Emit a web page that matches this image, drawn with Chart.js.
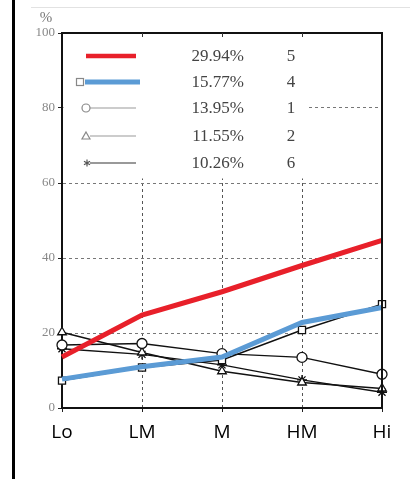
<!DOCTYPE html>
<html>
<head>
<meta charset="utf-8">
<script src="https://cdn.jsdelivr.net/npm/chart.js@4/dist/chart.umd.min.js"></script>
<style>
  html, body { margin: 0; padding: 0; background: #fff; }
  #wrap { width: 413px; height: 479px; }
</style>
</head>
<body>
<div id="wrap"><canvas id="chart" width="413" height="479"></canvas></div>
<script>
const categories = ['Lo', 'LM', 'M', 'HM', 'Hi'];

// highlighted groups (drawn over the original black lines)
const group5 = [13.6, 24.8, 31, 38, 44.7];
const group4 = [7.7, 11, 13.6, 22.8, 26.8];

// original black series
const group4Marks = [7.3, 10.8, 12.8, 20.8, 27.7];
const group1 = [16.8, 17.2, 14.5, 13.5, 9];
const group2 = [20.2, 14.8, 9.8, 6.8, 5.2];
const group6 = [15.8, 14.3, 11.5, 7.5, 4.2];

const yTicks = [0, 20, 40, 60, 80, 100];

const legendShares = ['29.94%', '15.77%', '13.95%', '11.55%', '10.26%'];
const legendGroups = ['5', '4', '1', '2', '6'];

const serif = '"Liberation Serif", "DejaVu Serif", serif';

function blackSeries(data, style) {
  return {
    data: data,
    borderColor: '#111',
    borderWidth: 1.5,
    pointStyle: style,
    pointRadius: 5,
    pointBorderColor: '#111',
    pointBackgroundColor: '#fff',
    pointBorderWidth: 1.3,
    tension: 0
  };
}

// legend table in the upper left, frame, and the page decorations
const decorations = {
  id: 'decorations',
  beforeDatasetsDraw(chart) {
    const ctx = chart.ctx;
    const area = chart.chartArea;
    ctx.save();
    ctx.fillStyle = '#fff';
    ctx.fillRect(area.left + 1.5, area.top + 1.5, 244, 144);

    const rowY = [56, 82, 108, 136, 163];
    const markers = [null, 'rect', 'circle', 'triangle', 'star'];
    rowY.forEach((y, i) => {
      ctx.lineWidth = 1.5;
      if (i === 0) {
        ctx.strokeStyle = '#e8202a';
        ctx.lineWidth = 4.5;
        ctx.beginPath(); ctx.moveTo(86, y); ctx.lineTo(136, y); ctx.stroke();
      } else if (i === 1) {
        ctx.strokeStyle = '#5b9bd5';
        ctx.lineWidth = 5;
        ctx.beginPath(); ctx.moveTo(85, y); ctx.lineTo(140, y); ctx.stroke();
      } else {
        ctx.strokeStyle = i === 4 ? '#777' : '#bbb';
        ctx.beginPath(); ctx.moveTo(90, y); ctx.lineTo(136, y); ctx.stroke();
      }
      const m = markers[i];
      ctx.strokeStyle = '#888';
      ctx.fillStyle = '#fff';
      ctx.lineWidth = 1.2;
      if (m === 'rect') {
        ctx.fillRect(76.5, y - 3.5, 7, 7);
        ctx.strokeRect(76.5, y - 3.5, 7, 7);
      } else if (m === 'circle') {
        ctx.beginPath(); ctx.arc(86, y, 4, 0, Math.PI * 2); ctx.fill(); ctx.stroke();
      } else if (m === 'triangle') {
        ctx.beginPath(); ctx.moveTo(86, y - 4); ctx.lineTo(90, y + 3); ctx.lineTo(82, y + 3); ctx.closePath(); ctx.fill(); ctx.stroke();
      } else if (m === 'star') {
        ctx.strokeStyle = '#555';
        ctx.beginPath();
        for (let k = 0; k < 3; k++) {
          const a = Math.PI / 2 + k * Math.PI / 3;
          ctx.moveTo(87 + 3.5 * Math.cos(a), y + 3.5 * Math.sin(a));
          ctx.lineTo(87 - 3.5 * Math.cos(a), y - 3.5 * Math.sin(a));
        }
        ctx.stroke();
      }
      ctx.fillStyle = '#444';
      ctx.font = '17px ' + serif;
      ctx.textBaseline = 'middle';
      ctx.textAlign = 'right';
      ctx.fillText(legendShares[i], 244, y + 1);
      ctx.textAlign = 'center';
      ctx.fillText(legendGroups[i], 291, y + 1);
    });
    ctx.restore();
  },
  afterDraw(chart) {
    const ctx = chart.ctx;
    const area = chart.chartArea;
    const xs = chart.scales.x;
    ctx.save();
    // frame top and right
    ctx.strokeStyle = '#111';
    ctx.lineWidth = 2;
    ctx.beginPath();
    ctx.moveTo(area.left, area.top);
    ctx.lineTo(area.right, area.top);
    ctx.lineTo(area.right, area.bottom);
    ctx.stroke();
    // small ticks on the top edge
    ctx.lineWidth = 1;
    ctx.strokeStyle = '#333';
    for (let i = 1; i < categories.length - 1; i++) {
      const px = Math.round(xs.getPixelForTick(i)) + 0.5;
      ctx.beginPath(); ctx.moveTo(px, area.top); ctx.lineTo(px, area.top + 4); ctx.stroke();
    }
    ctx.fillStyle = '#000';
    ctx.fillRect(12, 0, 3, chart.height);
    ctx.strokeStyle = '#e2e2e2';
    ctx.beginPath(); ctx.moveTo(31, 7.5); ctx.lineTo(410, 7.5); ctx.stroke();
    ctx.fillStyle = '#777';
    ctx.font = '15px ' + serif;
    ctx.textAlign = 'center';
    ctx.textBaseline = 'middle';
    ctx.fillText('%', 46, 18);
    ctx.restore();
  }
};

new Chart(document.getElementById('chart'), {
  type: 'line',
  data: {
    labels: categories,
    datasets: [
      { data: group5, borderColor: '#e8202a', borderWidth: 5, pointRadius: 0, tension: 0 },
      { data: group4, borderColor: '#5b9bd5', borderWidth: 5, pointRadius: 0, tension: 0 },
      blackSeries(group4Marks, 'rect'),
      blackSeries(group1, 'circle'),
      blackSeries(group2, 'triangle'),
      blackSeries(group6, 'star')
    ]
  },
  options: {
    responsive: false,
    animation: false,
    layout: { padding: { left: 20, top: 33, right: 31, bottom: 31 } },
    plugins: { legend: { display: false }, tooltip: { enabled: false } },
    scales: {
      x: {
        offset: false,
        afterFit(scale) { scale.height = 40; },
        grid: {
          color: (c) => (c.index === 0 || c.index === categories.length - 1) ? 'rgba(0,0,0,0)' : '#555',
          tickColor: '#222',
          tickLength: 4,
          tickBorderDash: []
        },
        border: { color: '#111', width: 2, dash: [3, 3] },
        ticks: { color: '#000', font: { family: '"Open Sans", "Liberation Sans", sans-serif', size: 19 }, padding: 9, maxRotation: 0, autoSkip: false }
      },
      y: {
        min: 0,
        max: 100,
        afterFit(scale) { scale.width = 42; },
        afterBuildTicks(scale) { scale.ticks = yTicks.map(v => ({ value: v })); },
        grid: {
          color: (c) => (c.tick && (c.tick.value === 0 || c.tick.value === 100)) ? 'rgba(0,0,0,0)' : '#777',
          tickColor: '#222',
          tickLength: 4,
          tickBorderDash: []
        },
        border: { color: '#111', width: 2, dash: [3, 3] },
        ticks: { color: '#888', font: { family: serif, size: 13 }, padding: 3 }
      }
    }
  },
  plugins: [decorations]
});
</script>
</body>
</html>
